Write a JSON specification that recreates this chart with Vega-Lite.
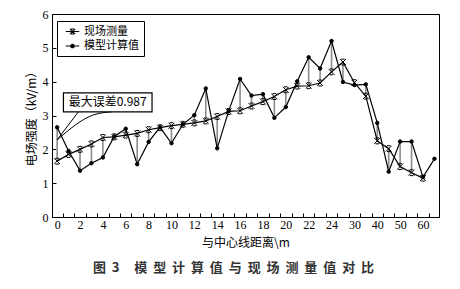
{
  "$schema": "https://vega.github.io/schema/vega-lite/v6.json",
  "width": 387,
  "height": 203,
  "autosize": "none",
  "padding": {"left": 52, "top": 14, "right": 21, "bottom": 72},
  "background": "white",
  "config": {
    "view": {"stroke": "#000", "strokeWidth": 1},
    "font": "Noto Sans CJK SC"
  },
  "title": {
    "text": "图\u00a0\u00a03\u00a0\u00a0\u00a0\u00a0\u00a0模\u00a0\u00a0型\u00a0\u00a0计\u00a0\u00a0算\u00a0\u00a0值\u00a0\u00a0与\u00a0\u00a0现\u00a0\u00a0场\u00a0\u00a0测\u00a0\u00a0量\u00a0\u00a0值\u00a0\u00a0对\u00a0\u00a0比",
    "orient": "bottom",
    "anchor": "middle",
    "fontSize": 13,
    "fontWeight": "bold",
    "color": "#333",
    "offset": 14,
    "dx": -12,
    "font": "Noto Sans CJK SC"
  },
  "datasets": {
    "pts": [
      {"i": 0, "现场测量": 1.65, "模型计算值": 2.65},
      {"i": 1, "现场测量": 1.85, "模型计算值": 1.95},
      {"i": 2, "现场测量": 2.00, "模型计算值": 1.37},
      {"i": 3, "现场测量": 2.16, "模型计算值": 1.59},
      {"i": 4, "现场测量": 2.35, "模型计算值": 1.76},
      {"i": 5, "现场测量": 2.37, "模型计算值": 2.38},
      {"i": 6, "现场测量": 2.42, "模型计算值": 2.61},
      {"i": 7, "现场测量": 2.47, "模型计算值": 1.56},
      {"i": 8, "现场测量": 2.58, "模型计算值": 2.22},
      {"i": 9, "现场测量": 2.64, "模型计算值": 2.65},
      {"i": 10, "现场测量": 2.70, "模型计算值": 2.18},
      {"i": 11, "现场测量": 2.74, "模型计算值": 2.74},
      {"i": 12, "现场测量": 2.78, "模型计算值": 3.01},
      {"i": 13, "现场测量": 2.84, "模型计算值": 3.80},
      {"i": 14, "现场测量": 2.97, "模型计算值": 2.03},
      {"i": 15, "现场测量": 3.12, "模型计算值": 3.13},
      {"i": 16, "现场测量": 3.14, "模型计算值": 4.08},
      {"i": 17, "现场测量": 3.28, "模型计算值": 3.59},
      {"i": 18, "现场测量": 3.41, "模型计算值": 3.63},
      {"i": 19, "现场测量": 3.56, "模型计算值": 2.93},
      {"i": 20, "现场测量": 3.76, "模型计算值": 3.25},
      {"i": 21, "现场测量": 3.87, "模型计算值": 4.01},
      {"i": 22, "现场测量": 3.88, "模型计算值": 4.72},
      {"i": 23, "现场测量": 3.96, "模型计算值": 4.39},
      {"i": 24, "现场测量": 4.29, "模型计算值": 5.20},
      {"i": 25, "现场测量": 4.58, "模型计算值": 3.99},
      {"i": 26, "现场测量": 3.97, "模型计算值": 3.90},
      {"i": 27, "现场测量": 3.57, "模型计算值": 3.92},
      {"i": 28, "现场测量": 2.25, "模型计算值": 2.78},
      {"i": 29, "现场测量": 2.02, "模型计算值": 1.34},
      {"i": 30, "现场测量": 1.49, "模型计算值": 2.23},
      {"i": 31, "现场测量": 1.31, "模型计算值": 2.23},
      {"i": 32, "现场测量": 1.15, "模型计算值": 1.18},
      {"i": 33, "模型计算值": 1.72}
    ],
    "lead": [
      {"line": "a", "i": 0, "v": 2.28},
      {"line": "a", "i": 1.86, "v": 3.11},
      {"line": "b", "i": 0, "v": 2.28},
      {"line": "b", "i": 3.2, "v": 3.02},
      {"line": "b", "i": 4.8, "v": 3.11}
    ],
    "box": [{"i": 0.55, "i2": 8.3, "v": 3.11, "v2": 3.67}],
    "note": [{"i": 4.42, "v": 3.39, "label": "最大误差0.987"}]
  },
  "encoding": {
    "x": {
      "field": "i",
      "type": "quantitative",
      "scale": {"domain": [-0.45, 33.4], "nice": false, "zero": false},
      "axis": {
        "title": "与中心线距离\\m",
        "titleFont": "Noto Sans CJK SC",
        "titleFontSize": 12,
        "titleFontWeight": "normal",
        "titleColor": "#000",
        "titlePadding": 7,
        "values": [0,0.5,1,1.5,2,2.5,3,3.5,4,4.5,5,5.5,6,6.5,7,7.5,8,8.5,9,9.5,10,10.5,11,11.5,12,12.5,13,13.5,14,14.5,15,15.5,16,16.5,17,17.5,18,18.5,19,19.5,20,20.5,21,21.5,22,22.5,23,23.5,24,24.5,25,25.5,26,26.5,27,27.5,28,28.5,29,29.5,30,30.5,31,31.5,32,32.5],
        "labelExpr": "datum.value % 2 === 0 ? (datum.value <= 24 ? '' + datum.value : '' + ((datum.value - 26) / 2 * 10 + 30)) : ''",
        "labelOverlap": false,
        "labelFlush": false,
        "labelFont": "Liberation Serif",
        "labelFontSize": 12,
        "labelColor": "#000",
        "labelPadding": 6,
        "tickSize": -4,
        "tickColor": "#000",
        "tickOpacity": {"condition": {"test": "datum.value % 1 === 0", "value": 0}, "value": 1},
        "domainColor": "#000",
        "grid": false
      }
    },
    "y": {
      "field": "v",
      "type": "quantitative",
      "title": "电场强度（kV/m）",
      "scale": {"domain": [0, 6], "nice": false},
      "axis": {
        "values": [0, 1, 2, 3, 4, 5, 6],
        "titleFont": "Noto Sans CJK SC",
        "titleFontSize": 12,
        "titleFontWeight": "normal",
        "titleColor": "#000",
        "titlePadding": 4,
        "labelFont": "Liberation Serif",
        "labelFontSize": 12,
        "labelColor": "#000",
        "labelPadding": 8,
        "tickSize": -4,
        "tickColor": "#000",
        "domainColor": "#000",
        "grid": false
      }
    }
  },
  "resolve": {"scale": {"shape": "independent"}},
  "layer": [
    {
      "data": {"name": "pts"},
      "mark": {"type": "rule", "color": "#8c8c8c", "strokeWidth": 1.6},
      "encoding": {
        "y": {"field": "现场测量", "type": "quantitative", "title": "电场强度（kV/m）"},
        "y2": {"field": "模型计算值"}
      }
    },
    {
      "data": {"name": "pts"},
      "transform": [{"fold": ["现场测量", "模型计算值"], "as": ["key", "v"]}],
      "mark": {"type": "line", "color": "#000", "strokeWidth": 1.2},
      "encoding": {"detail": {"field": "key", "type": "nominal"}}
    },
    {
      "data": {"name": "pts"},
      "transform": [{"fold": ["现场测量", "模型计算值"], "as": ["key", "v"]}],
      "mark": {"type": "point", "filled": true, "color": "#000", "stroke": "#000", "strokeWidth": 1, "opacity": 1, "size": 12},
      "encoding": {
        "shape": {
          "field": "key",
          "type": "nominal",
          "scale": {
            "domain": ["现场测量", "模型计算值"],
            "range": ["M-1.7,-1.7L1.7,1.7M-1.7,1.7L1.7,-1.7M-1,-1.7L1,-1.7M-1,1.7L1,1.7", "circle"]
          },
          "legend": null
        }
      }
    },
    {
      "data": {"name": "pts"},
      "transform": [{"fold": ["现场测量", "模型计算值"], "as": ["key", "v"]}],
      "mark": {"type": "point", "filled": true, "color": "#000", "opacity": 0, "size": 27},
      "encoding": {
        "shape": {
          "field": "key",
          "type": "nominal",
          "scale": {
            "domain": ["现场测量", "模型计算值"],
            "range": [
              "M-2.6,-0.2L2.6,-0.2L2.6,0.2L-2.6,0.2ZM-0.86,-1.14L1.14,0.86L0.86,1.14L-1.14,-0.86ZM-0.86,1.14L-1.14,0.86L0.86,-1.14L1.14,-0.86ZM-0.6,-1.2L0.6,-1.2L0.6,-0.8L-0.6,-0.8ZM-0.6,0.8L0.6,0.8L0.6,1.2L-0.6,1.2Z",
              "M-2.6,-0.2L2.6,-0.2L2.6,0.2L-2.6,0.2ZM-0.9,0A0.9,0.9,0,1,1,0.9,0A0.9,0.9,0,1,1,-0.9,0Z"
            ]
          },
          "legend": {
            "title": null,
            "orient": "none",
            "legendX": 5,
            "legendY": 7,
            "strokeColor": "#000",
            "fillColor": "#fff",
            "padding": 5,
            "labelFont": "Noto Sans CJK SC",
            "labelFontSize": 11,
            "labelColor": "#000",
            "symbolSize": 27,
            "symbolOpacity": 1,
            "symbolFillColor": "#000",
            "symbolStrokeWidth": 0,
            "symbolOffset": 5,
            "rowPadding": 2.5,
            "labelOffset": 6
          }
        }
      }
    },
    {
      "data": {"name": "lead"},
      "mark": {"type": "line", "color": "#000", "strokeWidth": 1, "interpolate": "monotone"},
      "encoding": {"detail": {"field": "line", "type": "nominal"}}
    },
    {
      "data": {"name": "box"},
      "mark": {"type": "rect", "fill": "#fff", "stroke": "#000", "strokeWidth": 1.2},
      "encoding": {"x2": {"field": "i2"}, "y2": {"field": "v2"}}
    },
    {
      "data": {"name": "note"},
      "mark": {"type": "text", "font": "Noto Sans CJK SC", "fontSize": 12, "color": "#000", "align": "center", "baseline": "middle"},
      "encoding": {"text": {"field": "label", "type": "nominal"}}
    }
  ]
}
